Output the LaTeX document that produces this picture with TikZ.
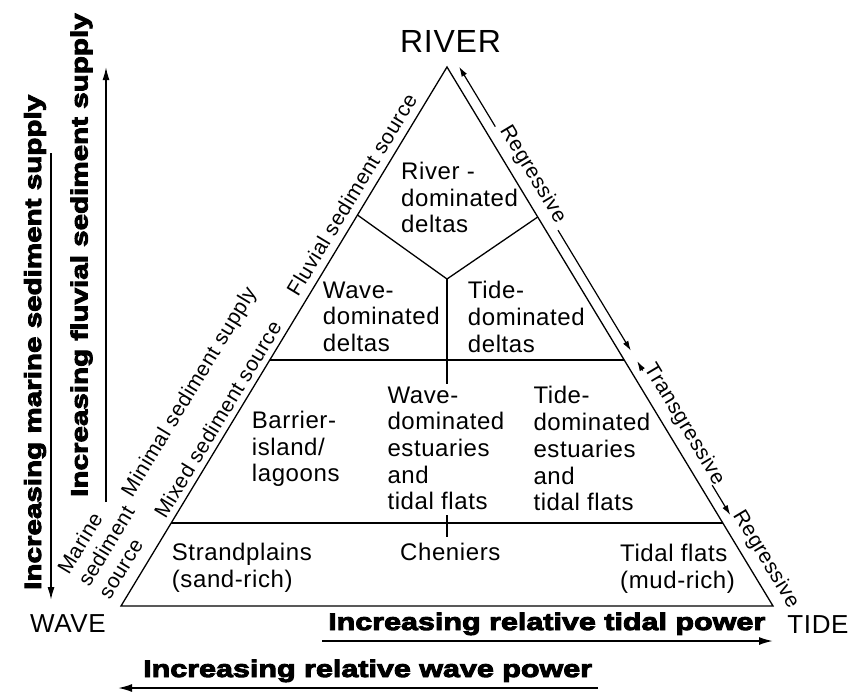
\documentclass[tikz,border=0pt]{standalone}
\usepackage{fontspec}
\setmainfont{Liberation Sans}
\newfontfamily\lab{Liberation Sans}[LetterSpace=2.5]
\newfontfamily\heavy{Liberation Sans Bold}[FakeStretch=1.27,FakeBold=4]
\usetikzlibrary{arrows.meta,calc}
\begin{document}
\begin{tikzpicture}[x=1pt,y=-1pt,
  edge/.style={line width=1.3pt, line join=miter},
  divider/.style={line width=1.7pt},
  arr/.style={line width=1.2pt, -{Latex[length=10pt,width=6pt]}},
  bigarr/.style={line width=1.8pt, -{Latex[length=14pt,width=8pt]}},
  vertarr/.style={line width=1.5pt, -{Latex[length=13pt,width=7pt]}},
  region/.style={font=\lab\fontsize{24}{26.7}\selectfont, align=left, anchor=north west, inner sep=0pt},
  side/.style={font=\lab\fontsize{21}{24}\selectfont, inner sep=0pt},
  corner/.style={font=\lab\fontsize{26}{30}\selectfont, inner sep=0pt, anchor=base},
  heavytxt/.style={font=\heavy\fontsize{24}{28}\selectfont, inner sep=0pt, anchor=base west}
]
\fill[white] (0,0) rectangle (848,691);
\useasboundingbox (0,0) rectangle (848,691);

% triangle
\coordinate (T) at (447,67);
\coordinate (L) at (121,606);
\coordinate (R) at (773,606);
\draw[edge] (T) -- (L) -- (R) -- cycle;

% horizontal dividers
\coordinate (h1l) at ($(L)!0.4564!(T)$);
\coordinate (h1r) at ($(R)!0.4564!(T)$);
\coordinate (h2l) at ($(L)!0.154!(T)$);
\coordinate (h2r) at ($(R)!0.154!(T)$);
\draw[divider] (h1l) -- (h1r);
\draw[divider] (h2l) -- (h2r);

% Y junction
\coordinate (YL) at ($(L)!0.7254!(T)$);
\coordinate (YR) at ($(R)!0.7217!(T)$);
\coordinate (J) at (447,279);
\coordinate (Jb) at (447,384);
\draw[edge] (YL) -- (J) -- (YR);
\draw[edge] (J) -- (Jb);
\coordinate (tk1) at (447,515);
\coordinate (tk2) at (447,537);
\draw[edge] (tk1) -- (tk2);

% right side arrows
\coordinate (a1s) at (495.3,126.6);
\coordinate (a1e) at (459.1,66.7);
\coordinate (a2s) at (558.0,230.2);
\coordinate (a2e) at (630.9,350.8);
\coordinate (a3s) at (642.8,370.5);
\coordinate (a3e) at (637.1,361.1);
\coordinate (a4s) at (712.2,485.2);
\coordinate (a4e) at (730.3,515.1);
\draw[arr] (a1s) -- (a1e);
\draw[arr] (a2s) -- (a2e);
\draw[arr] (a3s) -- (a3e);
\draw[arr] (a4s) -- (a4e);

% side labels
\node[side, rotate=-59] (reg1) at (532.6,174.4) {Regressive};
\node[side, rotate=-59] (trans) at (684,424.4) {Transgressive};
\node[side, rotate=-59] (reg2) at (765.6,559.4) {Regressive};
\node[side, rotate=58.8] (fluv) at (351.6,194.4) {Fluvial sediment source};
\node[side, rotate=58.8] (mixed) at (217.7,419.4) {Mixed sediment source};
\node[side, rotate=58.8] (minimal) at (190,392.5) {Minimal sediment supply};
\node[side, rotate=58.8, align=left] (marine) at (106,546) {Marine\\sediment\\source};

% region labels
\node[region] (rdelta) at (401,161.8) {River -\\dominated\\deltas};
\node[region] (wdelta) at (322.7,281.3) {Wave-\\dominated\\deltas};
\node[region] (tdelta) at (467.7,281.3) {Tide-\\dominated\\deltas};
\node[region] (barrier) at (251.7,410.8) {Barrier-\\island/\\lagoons};
\node[region] (westu) at (387.3,386.3) {Wave-\\dominated\\estuaries\\and\\tidal flats};
\node[region] (testu) at (533.3,386.3) {Tide-\\dominated\\estuaries\\and\\tidal flats};
\node[region] (strand) at (171.7,542.8) {Strandplains\\(sand-rich)};
\node[region] (chen) at (400,542.8) {Cheniers};
\node[region] (tflat) at (620,543.8) {Tidal flats\\(mud-rich)};

% corner labels
\node[font=\lab\fontsize{32}{36}\selectfont, inner sep=0pt, anchor=base] (river) at (450.5,52) {RIVER};
\node[corner] (wave) at (68,632) {WAVE};
\node[corner] (tide) at (818,633) {TIDE};

% heavy labels and arrows
\node[heavytxt] (tidalp) at (328,630) {Increasing relative tidal power};
\node[heavytxt] (wavep) at (143,677) {Increasing relative wave power};
\node[heavytxt, rotate=90, font=\heavy\fontsize{23.3}{28}\selectfont] (marsup) at (41,590) {Increasing marine sediment supply};
\node[heavytxt, rotate=90, font=\heavy\fontsize{23.3}{28}\selectfont] (fluvsup) at (87.5,497) {Increasing fluvial sediment supply};

\coordinate (ta1) at (322,641);
\coordinate (ta2) at (773,641);
\coordinate (wa1) at (598,688);
\coordinate (wa2) at (118,688);
\coordinate (ma1) at (51,153);
\coordinate (ma2) at (51,600);
\coordinate (fa1) at (106,502);
\coordinate (fa2) at (106,67);
\draw[bigarr] (ta1) -- (ta2);
\draw[bigarr] (wa1) -- (wa2);
\draw[vertarr] (ma1) -- (ma2);
\draw[vertarr] (fa1) -- (fa2);
\end{tikzpicture}
\end{document}
